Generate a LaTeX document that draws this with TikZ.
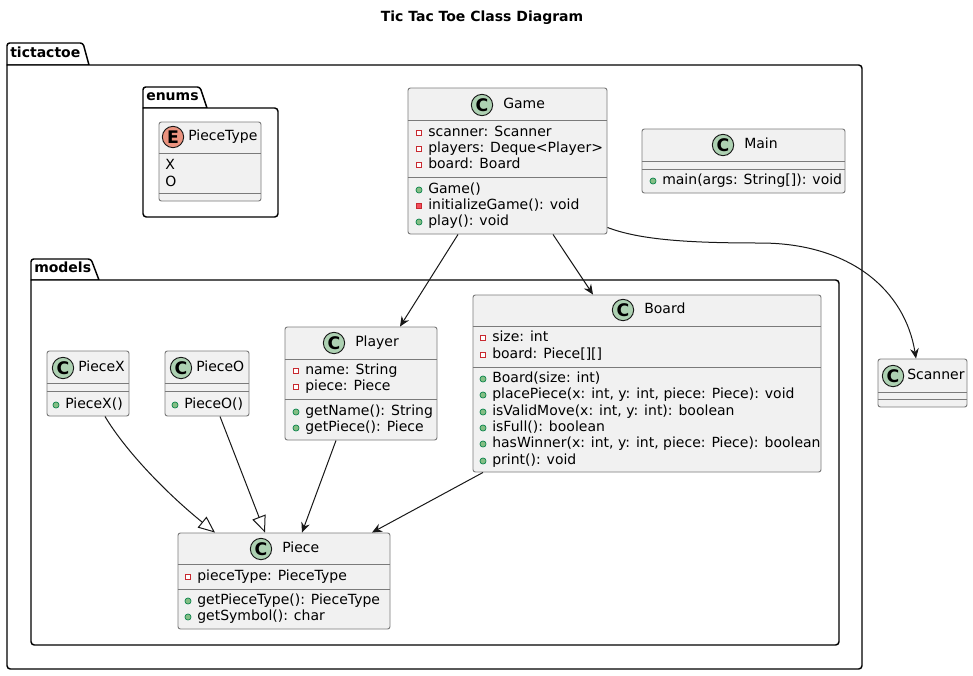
\documentclass[tikz,border=0pt]{standalone}
\usepackage{fontspec}
\setmainfont{DejaVu Sans}
\usetikzlibrary{arrows.meta,calc,fit}
\definecolor{clsfill}{HTML}{F1F1F1}
\definecolor{clsdraw}{HTML}{7A7A7A}
\definecolor{linecol}{HTML}{181818}
\definecolor{cicon}{HTML}{ADD1B2}
\definecolor{eicon}{HTML}{EB937F}
\definecolor{privdraw}{HTML}{C82930}
\definecolor{privfill}{HTML}{F24D5C}
\definecolor{pubdraw}{HTML}{038048}
\definecolor{pubfill}{HTML}{84BE84}
\newcommand{\umlfont}{\fontsize{10.5pt}{12.6pt}\selectfont}
\newcommand{\iconfont}{\fontsize{13pt}{13pt}\selectfont\bfseries}
\newcounter{umlmem}
% class box: name, x1, y1, x2, y2
\newcommand{\umlclass}[5]{\node[clsbox, fit={(#2,#3) (#4,#5)}] (#1) {};}
% separator line: box name, y
\newcommand{\umlsep}[2]{\draw[sepline] (#1.west |- 0,#2) -- (#1.east |- 0,#2);}
% header: name, letter, colour, cx, cy, text x, title
\newcommand{\umlhead}[7]{%
  \node[classicon, fill=#3] (#1icon) at (#4,#5) {#2};
  \node[member] (#1title) at (#6,#5) {#7};}
% members: icon x, y, text
\newcommand{\pfield}[3]{\stepcounter{umlmem}%
  \draw[privfielddraw] ({#1-2.75},{#2-2.75}) rectangle ({#1+2.75},{#2+2.75});
  \node[member] (mem\arabic{umlmem}) at ({#1+9},#2) {#3};}
\newcommand{\pmeth}[3]{\stepcounter{umlmem}%
  \draw[privmethdraw] ({#1-2.75},{#2-2.75}) rectangle ({#1+2.75},{#2+2.75});
  \node[member] (mem\arabic{umlmem}) at ({#1+9},#2) {#3};}
\newcommand{\umeth}[3]{\stepcounter{umlmem}%
  \fill[pubmethdraw] (#1,#2) circle[radius=2.3pt];
  \node[member] (mem\arabic{umlmem}) at ({#1+9},#2) {#3};}
\newcommand{\plain}[3]{\stepcounter{umlmem}%
  \node[member] (mem\arabic{umlmem}) at (#1,#2) {#3};}
\begin{document}
\begin{tikzpicture}[x=0.75pt,y=-0.75pt,
  every node/.style={font=\umlfont},
  clsbox/.style={draw=clsdraw, fill=clsfill, line width=0.7pt, rounded corners=1.8pt, inner sep=0pt},
  sepline/.style={draw=clsdraw, line width=0.7pt},
  classicon/.style={circle, draw=linecol, line width=0.7pt, minimum size=16pt, inner sep=0pt, font=\iconfont},
  member/.style={anchor=mid west, inner sep=0pt, text=black},
  privfielddraw/.style={draw=privdraw, fill=white, line width=0.6pt},
  privmethdraw/.style={draw=privdraw, fill=privfill, line width=0.6pt},
  pubmethdraw/.style={draw=pubdraw, fill=pubfill, line width=0.5pt},
  pkg/.style={draw=black, line width=1.1pt, fill=white, line join=round},
  pkglabel/.style={anchor=mid west, inner sep=0pt, font=\umlfont\bfseries},
  assoc/.style={draw=linecol, line width=0.75pt, -{Stealth[length=7.5pt,width=6.5pt,inset=2.5pt]}},
  inherit/.style={draw=linecol, line width=0.75pt, -{Triangle[open,length=12.5pt,width=10.5pt,fill=white]}}
]
\useasboundingbox (0,0) rectangle (973,675);

% title
\node[font=\umlfont\bfseries, inner sep=0pt] (title) at (482,18) {Tic Tac Toe Class Diagram};

% package tictactoe
\draw[pkg] (7,65) -- (7,45) [rounded corners=2pt] -- (7,43) -- (83,43) [sharp corners] -- (89,65) -- cycle;
\draw[pkg] (7,65) [rounded corners=2.5pt] -- (7,669) -- (862,669) -- (862,65) [sharp corners] -- (7,65) -- cycle;
\node[pkglabel] (lbltictactoe) at (10,54) {tictactoe};

% package enums
\draw[pkg] (143,108) -- (143,89) [rounded corners=2pt] -- (143,87) -- (200,87) [sharp corners] -- (207,108) -- cycle;
\draw[pkg] (143,108) [rounded corners=2.5pt] -- (143,217) -- (278,217) -- (278,108) [sharp corners] -- (143,108) -- cycle;
\node[pkglabel] (lblenums) at (146,97) {enums};

% package models
\draw[pkg] (31,280) -- (31,261) [rounded corners=2pt] -- (31,259) -- (91,259) [sharp corners] -- (99,280) -- cycle;
\draw[pkg] (31,280) [rounded corners=2.5pt] -- (31,645) -- (839,645) -- (839,280) [sharp corners] -- (31,280) -- cycle;
\node[pkglabel] (lblmodels) at (34,269) {models};

% PieceType
\umlclass{piecetype}{159}{122}{261}{201}
\umlhead{piecetype}{E}{eicon}{173}{137}{188}{PieceType}
\umlsep{piecetype}{153}
\plain{165}{166}{X}
\plain{165}{183}{O}
\umlsep{piecetype}{193}

% Game
\umlclass{game}{408}{88}{607}{234}
\umlhead{game}{C}{cicon}{482}{105}{503}{Game}
\umlsep{game}{120}
\pfield{419}{133}{scanner: Scanner}
\pfield{419}{149}{players: Deque<Player>}
\pfield{419}{165}{board: Board}
\umlsep{game}{177}
\umeth{419}{190}{Game()}
\pmeth{419}{206}{initializeGame(): void}
\umeth{419}{222}{play(): void}

% Main
\umlclass{main}{642}{129}{845}{193}
\umlhead{main}{C}{cicon}{723}{145}{744}{Main}
\umlsep{main}{161}
\umlsep{main}{169}
\umeth{653}{181}{main(args: String[]): void}

% PieceX
\umlclass{piecex}{47}{351}{129}{416}
\umlhead{piecex}{C}{cicon}{63}{368}{78}{PieceX}
\umlsep{piecex}{383}
\umlsep{piecex}{391}
\umeth{56}{405}{PieceX()}

% PieceO
\umlclass{pieceo}{165}{351}{249}{416}
\umlhead{pieceo}{C}{cicon}{181}{368}{196}{PieceO}
\umlsep{pieceo}{383}
\umlsep{pieceo}{391}
\umeth{175}{405}{PieceO()}

% Player
\umlclass{player}{285}{327}{437}{440}
\umlhead{player}{C}{cicon}{334}{343}{355}{Player}
\umlsep{player}{359}
\pfield{296}{371}{name: String}
\pfield{296}{387}{piece: Piece}
\umlsep{player}{399}
\umeth{296}{412}{getName(): String}
\umeth{296}{428}{getPiece(): Piece}

% Board
\umlclass{board}{473}{295}{821}{472}
\umlhead{board}{C}{cicon}{623}{310}{644}{Board}
\umlsep{board}{326}
\pfield{483}{338}{size: int}
\pfield{483}{355}{board: Piece[][]}
\umlsep{board}{367}
\umeth{483}{379}{Board(size: int)}
\umeth{483}{395}{placePiece(x: int, y: int, piece: Piece): void}
\umeth{483}{412}{isValidMove(x: int, y: int): boolean}
\umeth{483}{428}{isFull(): boolean}
\umeth{483}{444}{hasWinner(x: int, y: int, piece: Piece): boolean}
\umeth{483}{461}{print(): void}

% Piece
\umlclass{piece}{178}{533}{390}{629}
\umlhead{piece}{C}{cicon}{261}{549}{282}{Piece}
\umlsep{piece}{564}
\pfield{188}{577}{pieceType: PieceType}
\umlsep{piece}{589}
\umeth{188}{601}{getPieceType(): PieceType}
\umeth{188}{617}{getSymbol(): char}

% Scanner
\umlclass{scanner}{878}{359}{967}{407}
\umlhead{scanner}{C}{cicon}{893}{376}{907}{Scanner}
\umlsep{scanner}{392}
\umlsep{scanner}{399}

% connectors
\draw[assoc] ($(game.south)+(-49.5,0)$) -- ($(player.north)+(39,0)$);
\draw[assoc] ($(game.south)+(45.5,0)$) -- ($(board.north)+(-54,0)$);
\draw[assoc] ($(game.south east)+(0,-7)$) .. controls (640,240) and (690,243) .. (760,243)
   .. controls (850,243) and (905,290) .. ($(scanner.north)+(-6.5,0)$);
\draw[assoc] ($(player.south)+(-25,0)$) -- ($(piece.north)+(18,0)$);
\draw[assoc] ($(board.south)+(-164,0)$) -- ($(piece.north)+(88,0)$);
\draw[inherit] ($(piecex.south)+(17,0)$) .. controls (125,450) and (165,492) .. ($(piece.north)+(-69,0)$);
\draw[inherit] ($(pieceo.south)+(13,0)$) -- ($(piece.north)+(-19,0)$);
\end{tikzpicture}
\end{document}
